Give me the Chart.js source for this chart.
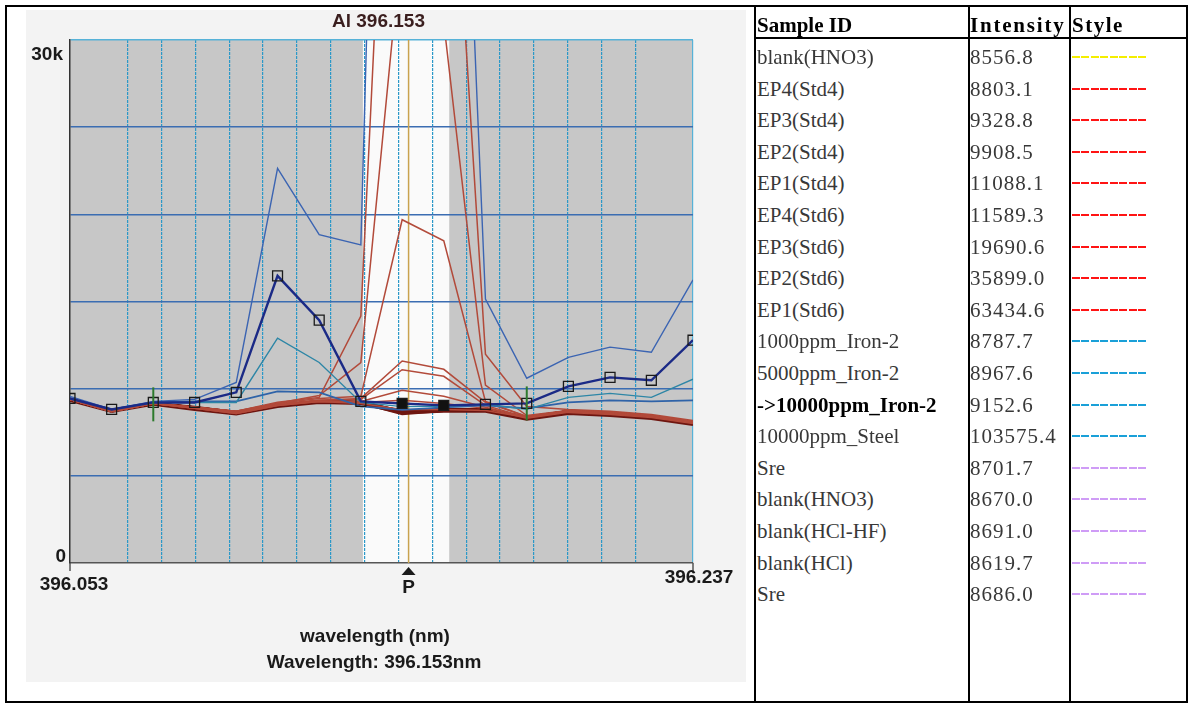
<!DOCTYPE html>
<html>
<head>
<meta charset="utf-8">
<script src="https://cdn.jsdelivr.net/npm/chart.js@4.4.0/dist/chart.umd.min.js"></script>
<style>
  html, body { margin: 0; padding: 0; background: #fff; }
  #wrap { position: relative; width: 1192px; height: 708px; overflow: hidden; }
  #spec { position: absolute; left: 0; top: 0; }
  .ln { position: absolute; background: #000; }
  .cell { position: absolute; font-family: "Liberation Serif", serif; font-size: 21px; color: #383838;
          white-space: nowrap; line-height: 24px; height: 24px; }
  .num { letter-spacing: 1px; }
  .hd { font-weight: bold; color: #000; }
  .sw { position: absolute; height: 2px; width: 75px; }
</style>
</head>
<body>
<div id="wrap">
  <canvas id="spec" width="755" height="708"></canvas>
  <div id="tbl"></div>
</div>
<script>
const xMin = 396.053;
const xMax = 396.237;
const yMax = 30000;
const markerWavelength = 396.153;
// peak window shown as the white band
const windowStart = 396.1395;
const windowEnd = 396.165;

const wavelengths = [396.053, 396.0653, 396.0776, 396.0898, 396.1021, 396.1143, 396.1266, 396.1389,
  396.1511, 396.1634, 396.1757, 396.1879, 396.2002, 396.2125, 396.2247, 396.237];

const sampleIds = ['blank(HNO3)', 'EP4(Std4)', 'EP3(Std4)', 'EP2(Std4)', 'EP1(Std4)', 'EP4(Std6)',
  'EP3(Std6)', 'EP2(Std6)', 'EP1(Std6)', '1000ppm_Iron-2', '5000ppm_Iron-2', '->10000ppm_Iron-2',
  '10000ppm_Steel', 'Sre', 'blank(HNO3)', 'blank(HCl-HF)', 'blank(HCl)', 'Sre'];
const intensities = [8556.8, 8803.1, 9328.8, 9908.5, 11088.1, 11589.3, 19690.6, 35899.0, 63434.6,
  8787.7, 8967.6, 9152.6, 103575.4, 8701.7, 8670.0, 8691.0, 8619.7, 8686.0];
const styleColors = ['#f4ee00', '#ff1414', '#ff1414', '#ff1414', '#ff1414', '#ff1414', '#ff1414',
  '#ff1414', '#ff1414', '#1aa0d8', '#1aa0d8', '#1aa0d8', '#1aa0d8', '#cf9cf6', '#cf9cf6', '#cf9cf6',
  '#cf9cf6', '#cf9cf6'];
const highlighted = 11;

// spectra, same order as sampleIds
const blankHNO3 = [9385, 8750, 9155, 8870, 8640, 9040, 9270, 9210, 8557, 8750, 8810, 8350, 8690, 8580, 8400, 8060];
const ep4Std4   = [9385, 8690, 9155, 8870, 8580, 9040, 9270, 9155, 8803, 8810, 8750, 8350, 8690, 8580, 8400, 8060];
const ep3Std4   = [9385, 8690, 9155, 8870, 8580, 9040, 9270, 9210, 9329, 9150, 8870, 8300, 8640, 8520, 8350, 8000];
const ep2Std4   = [9385, 8690, 9155, 8870, 8640, 9100, 9270, 9270, 9909, 9560, 8930, 8350, 8690, 8580, 8400, 8060];
const ep1Std4   = [9385, 8690, 9155, 8930, 8640, 9100, 9330, 9385, 11088, 10710, 9040, 8350, 8750, 8640, 8460, 8120];
const ep4Std6   = [9385, 8690, 9155, 8930, 8640, 9100, 9330, 9440, 11589, 11110, 9210, 8410, 8750, 8640, 8460, 8120];
const ep3Std6   = [9385, 8690, 9155, 8930, 8700, 9160, 9440, 9560, 19691, 18480, 9270, 8410, 8750, 8640, 8460, 8120];
const ep2Std6   = [9385, 8690, 9155, 8930, 8700, 9160, 9610, 11500, 35899, 31000, 10200, 8460, 8750, 8640, 8460, 8120];
const ep1Std6   = [9385, 8690, 9155, 8930, 8700, 9220, 9500, 14165, 63435, 50000, 11980, 8980, 8810, 8700, 8520, 8180];
const iron1000  = [9440, 8810, 9210, 9270, 9270, 9850, 9790, 8980, 8788, 8930, 9040, 8870, 9210, 9330, 9270, 9330];
const iron5000  = [9440, 8810, 9210, 9210, 9210, 12900, 11500, 9210, 8968, 8990, 9100, 8810, 9500, 9730, 9500, 10540];
const iron10000 = [9440, 8810, 9210, 9210, 9790, 16470, 13930, 9270, 9153, 9040, 9100, 9155, 10130, 10650, 10480, 12780];
const steel     = [9560, 8810, 9270, 9385, 10360, 22630, 18830, 18250, 103575, 72000, 15140, 10600, 11800, 12380, 12090, 16240];
const sre1      = [9385, 8750, 9155, 8930, 8640, 9040, 9270, 9210, 8702, 8810, 8810, 8350, 8690, 8580, 8400, 8060];
const blankHNO3b = [9385, 8750, 9155, 8900, 8640, 9040, 9270, 9210, 8670, 8790, 8790, 8330, 8690, 8580, 8400, 8060];
const blankHClHF = [9385, 8750, 9155, 8900, 8640, 9040, 9270, 9210, 8691, 8790, 8790, 8350, 8690, 8580, 8400, 8060];
const blankHCl  = [9330, 8690, 9100, 8810, 8550, 8980, 9210, 9150, 8620, 8700, 8700, 8250, 8580, 8460, 8290, 7940];
const sre2      = [9385, 8750, 9155, 8900, 8640, 9040, 9270, 9210, 8686, 8790, 8810, 8350, 8690, 8580, 8400, 8060];

const spectra = [blankHNO3, ep4Std4, ep3Std4, ep2Std4, ep1Std4, ep4Std6, ep3Std6, ep2Std6, ep1Std6,
  iron1000, iron5000, iron10000, steel, sre1, blankHNO3b, blankHClHF, blankHCl, sre2];

// background correction points (green marks)
const bgPointX = [396.0776, 396.1879];
const bgPointY = [9100, 9155];

function lineStyle(i) {
  if (i === highlighted) return { color: '#1b2a86', width: 2.4, order: 1 };
  if (i === 12) return { color: '#3b64b2', width: 1.4, order: 2 };
  if (i === 10) return { color: '#2d86a6', width: 1.4, order: 3 };
  if (i === 9) return { color: '#2f63a8', width: 1.8, order: 4 };
  if (i >= 1 && i <= 8) return { color: '#b24a3a', width: 1.5, order: 5 };
  return { color: '#6e1610', width: 3, order: 6 };
}

const datasets = spectra.map((vals, i) => {
  const s = lineStyle(i);
  const ds = {
    label: sampleIds[i],
    data: vals.map((v, k) => ({ x: wavelengths[k], y: v })),
    borderColor: s.color,
    borderWidth: s.width,
    order: s.order,
    pointRadius: 0,
    tension: 0
  };
  if (i === highlighted) {
    ds.pointRadius = 7;
    ds.pointStyle = 'rect';
    ds.pointBorderColor = '#1a1a1a';
    ds.pointBorderWidth = 1.3;
    ds.pointBackgroundColor = vals.map((v, k) => (k === 8 || k === 9) ? '#111' : 'rgba(0,0,0,0)');
  }
  return ds;
});
datasets.push({
  label: 'background points',
  data: bgPointX.map((x, k) => ({ x: x, y: bgPointY[k] })),
  showLine: false,
  pointStyle: 'line',
  rotation: 90,
  pointRadius: 17,
  borderColor: '#2d7a2d',
  pointBorderColor: '#2d7a2d',
  pointBorderWidth: 2,
  order: 0
});

const scanPlugin = {
  id: 'scanPlugin',
  beforeDraw(chart) {
    const { ctx, chartArea: a, scales: { x } } = chart;
    ctx.save();
    ctx.fillStyle = '#fff';
    ctx.fillRect(0, 0, chart.width, chart.height);
    ctx.fillStyle = '#f3f3f3';
    ctx.fillRect(26, 10, 720, 672);
    ctx.fillStyle = '#c7c7c7';
    ctx.fillRect(a.left, a.top, a.right - a.left, a.bottom - a.top);
    const w0 = x.getPixelForValue(windowStart);
    const w1 = x.getPixelForValue(windowEnd);
    ctx.fillStyle = '#fafafa';
    ctx.fillRect(w0, a.top, w1 - w0, a.bottom - a.top);
    ctx.restore();
  },
  beforeDatasetsDraw(chart) {
    const { ctx, chartArea: a, scales: { x } } = chart;
    const px = x.getPixelForValue(markerWavelength);
    ctx.save();
    ctx.strokeStyle = '#c9a24e';
    ctx.lineWidth = 1.5;
    ctx.beginPath();
    ctx.moveTo(px, a.top);
    ctx.lineTo(px, a.bottom);
    ctx.stroke();
    ctx.restore();
  },
  afterDraw(chart) {
    const { ctx, chartArea: a, scales: { x, y } } = chart;
    ctx.save();
    // axis stubs
    ctx.strokeStyle = '#555';
    ctx.lineWidth = 1.5;
    ctx.beginPath();
    ctx.moveTo(a.left, a.bottom);
    ctx.lineTo(a.left, a.bottom + 8);
    ctx.moveTo(a.right, a.bottom);
    ctx.lineTo(a.right, a.bottom + 10);
    ctx.stroke();

    ctx.font = 'bold 19px "Liberation Sans", Arial, sans-serif';
    ctx.textBaseline = 'middle';
    ctx.textAlign = 'center';
    ctx.fillStyle = '#3a1e1e';
    ctx.fillText('Al 396.153', (a.left + a.right) / 2 - 3, 22);
    ctx.fillStyle = '#1a1a1a';
    ctx.fillText('396.053', a.left + 4, a.bottom + 22);
    ctx.fillText('396.237', a.right + 6, a.bottom + 15);
    ctx.textAlign = 'right';
    ctx.fillText('30k', a.left - 7, y.getPixelForValue(yMax) + 15);
    ctx.fillText('0', a.left - 4, y.getPixelForValue(0) - 6);

    // peak position marker
    const px = x.getPixelForValue(markerWavelength);
    ctx.beginPath();
    ctx.moveTo(px, a.bottom + 4);
    ctx.lineTo(px + 7, a.bottom + 12);
    ctx.lineTo(px - 7, a.bottom + 12);
    ctx.closePath();
    ctx.fill();
    ctx.textAlign = 'center';
    ctx.fillText('P', px, a.bottom + 25);

    ctx.fillText('wavelength (nm)', 375, 637);
    ctx.fillText('Wavelength: 396.153nm', 374, 663);
    ctx.restore();
  }
};

const isEdge = (v, lo, hi) => Math.abs(v - lo) < 1e-6 || Math.abs(v - hi) < 1e-6;

new Chart(document.getElementById('spec'), {
  type: 'line',
  data: { datasets: datasets },
  options: {
    responsive: false,
    animation: false,
    devicePixelRatio: 1,
    layout: { padding: { left: 70, top: 40, right: 62, bottom: 145 } },
    plugins: { legend: { display: false }, tooltip: { enabled: false }, title: { display: false } },
    scales: {
      x: {
        type: 'linear',
        min: xMin,
        max: xMax,
        ticks: { display: false, stepSize: 0.01 },
        grid: {
          drawTicks: false,
          lineWidth: 1.2,
          color: (c) => {
            if (!c.tick) return 'rgba(0,0,0,0)';
            if (Math.abs(c.tick.value - xMin) < 1e-6) return 'rgba(0,0,0,0)';
            if (Math.abs(c.tick.value - xMax) < 1e-6) return '#56b2d8';
            return '#2a98c8';
          }
        },
        border: {
          color: '#555',
          width: 1.5,
          dash: (c) => (c.tick && !isEdge(c.tick.value, xMin, xMax)) ? [3, 1] : []
        }
      },
      y: {
        min: 0,
        max: yMax,
        ticks: { display: false, stepSize: 5000 },
        grid: {
          drawTicks: false,
          lineWidth: 1.5,
          color: (c) => {
            if (!c.tick) return 'rgba(0,0,0,0)';
            if (c.tick.value === 0) return 'rgba(0,0,0,0)';
            if (c.tick.value === yMax) return '#56b2d8';
            return '#3b6db2';
          }
        },
        border: { color: '#333', width: 1.5 }
      }
    }
  },
  plugins: [scanPlugin]
});

// legend table on the right
const tbl = document.getElementById('tbl');
function addLine(l, t, w, h) {
  const d = document.createElement('div');
  d.className = 'ln';
  d.style.cssText = `left:${l}px;top:${t}px;width:${w}px;height:${h}px`;
  tbl.appendChild(d);
}
function addCell(text, l, cy, cls, spacing) {
  const d = document.createElement('div');
  d.className = 'cell ' + (cls || '');
  d.textContent = text;
  d.style.left = l + 'px';
  d.style.top = (cy - 12) + 'px';
  if (spacing) d.style.letterSpacing = spacing + 'px';
  tbl.appendChild(d);
}
addLine(5, 5, 1183, 2);
addLine(5, 701, 1183, 2);
addLine(5, 5, 2, 698);
addLine(1186, 5, 2, 698);
addLine(754, 5, 2, 698);
addLine(968, 5, 2, 698);
addLine(1069, 5, 2, 698);
addLine(755, 37, 432, 2);
addCell('Sample ID', 757, 25, 'hd');
addCell('Intensity', 970, 25, 'hd', 1.8);
addCell('Style', 1072, 25, 'hd', 1.5);
sampleIds.forEach((id, i) => {
  const cy = 57 + i * 31.6;
  addCell(id, 757, cy, i === highlighted ? 'hd' : '');
  addCell(intensities[i].toFixed(1), 970, cy, 'num');
  const sw = document.createElement('div');
  sw.className = 'sw';
  sw.style.left = '1072px';
  sw.style.top = (cy - 1) + 'px';
  sw.style.background = `repeating-linear-gradient(to right, ${styleColors[i]} 0 8px, rgba(0,0,0,0) 8px 9.5px)`;
  tbl.appendChild(sw);
});
</script>
</body>
</html>
